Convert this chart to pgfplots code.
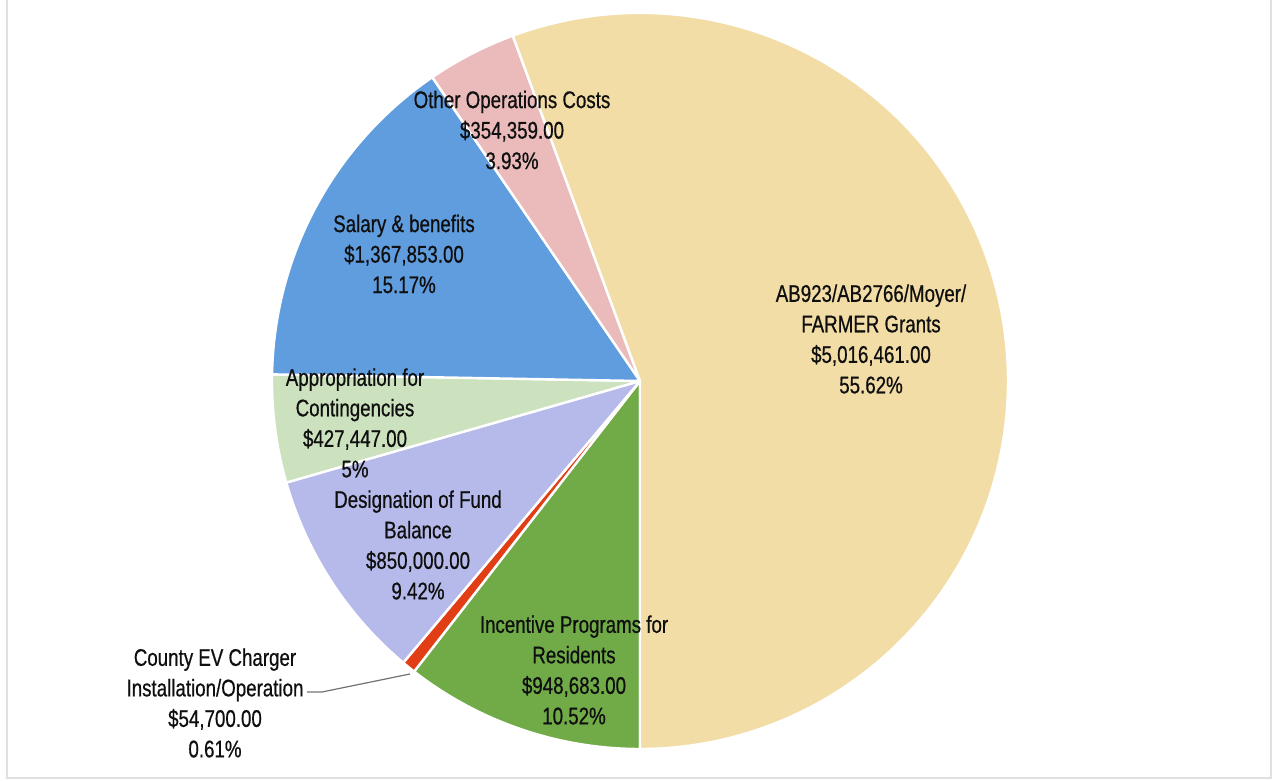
\documentclass[border=0pt]{standalone}
\usepackage{pgfplots}
\pgfplotsset{compat=1.18}
\usepackage{fontspec}
\setmainfont{Liberation Sans}[FakeStretch=0.78,FakeBold=0.6]
\definecolor{cbeige}{RGB}{243,221,166}
\definecolor{cgreen}{RGB}{112,171,72}
\definecolor{cred}{RGB}{226,62,22}
\definecolor{cpurple}{RGB}{182,186,234}
\definecolor{clgreen}{RGB}{204,225,190}
\definecolor{cblue}{RGB}{96,157,222}
\definecolor{cpink}{RGB}{235,187,188}
\definecolor{ctext}{RGB}{15,15,15}
\begin{document}
\begin{tikzpicture}
\begin{axis}[hide axis, scale only axis, width=637pt, height=390.5pt,
  xmin=0, xmax=1274, ymin=0, ymax=781, clip=false]
\fill[white] (axis cs:0,0) rectangle (axis cs:1274,781);
\draw[black!12, line width=1pt] (axis cs:7,781) -- (axis cs:7,3) -- (axis cs:1271,3) -- (axis cs:1271,781);
\def\total{9019503}
\foreach \v/\c [remember=\e as \s (initially 270)] in {948683/cgreen, 54700/cred, 850000/cpurple, 427447/clgreen, 1367853/cblue, 354359/cpink, 5016461/cbeige} {
  \edef\e{\fpeval{\s-\v/\total*360}}
  \edef\temp{\noexpand\filldraw[fill=\c, draw=white, line width=1.2pt, line join=round] (axis cs:640,400) -- ++(\s:184pt) arc[start angle=\s, end angle=\e, radius=184pt] -- cycle;}
  \temp
}
\draw[black!55, line width=0.6pt] (axis cs:307,89) -- (axis cs:322,89) -- (axis cs:410,107);
\tikzset{lbl/.style={align=center, inner sep=0pt, text=ctext, font=\fontsize{12}{15.25}\selectfont}}
\node[lbl] at (axis cs:512,651) {Other Operations Costs\\\$354,359.00\\3.93\%};
\node[lbl] at (axis cs:404,527) {Salary \& benefits\\\$1,367,853.00\\15.17\%};
\node[lbl] at (axis cs:355,358) {Appropriation for\\Contingencies\\\$427,447.00\\5\%};
\node[lbl] at (axis cs:418,236) {Designation of Fund\\Balance\\\$850,000.00\\9.42\%};
\node[lbl] at (axis cs:574,111) {Incentive Programs for\\Residents\\\$948,683.00\\10.52\%};
\node[lbl] at (axis cs:871,442) {AB923/AB2766/Moyer/\\FARMER Grants\\\$5,016,461.00\\55.62\%};
\node[lbl] at (axis cs:215,78) {County EV Charger\\Installation/Operation\\\$54,700.00\\0.61\%};
\end{axis}
\pgfresetboundingbox
\path[use as bounding box] (current axis.south west) rectangle (current axis.north east);
\end{tikzpicture}
\end{document}
